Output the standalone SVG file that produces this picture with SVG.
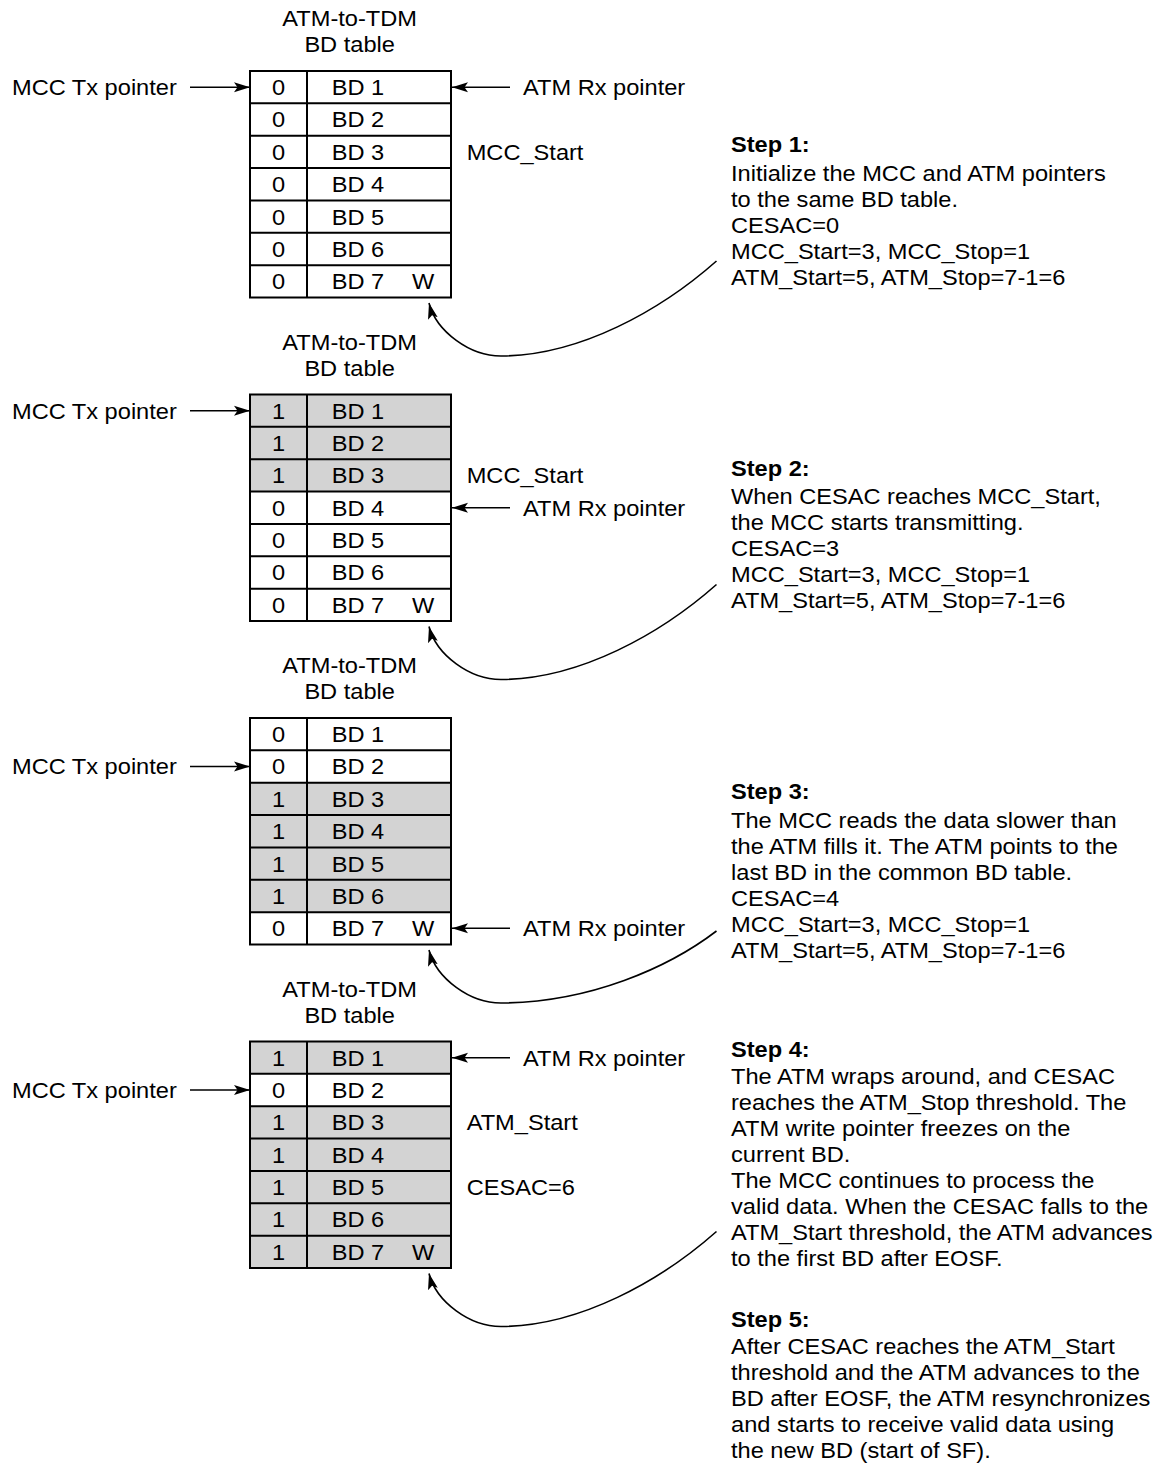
<svg xmlns="http://www.w3.org/2000/svg" width="1164" height="1463" viewBox="0 0 1164 1463">
<style>
text{font-family:"Liberation Sans",Arial,Helvetica,sans-serif;font-size:22.5px;fill:#000}
.m{text-anchor:middle}
.b{font-weight:bold}
.g{fill:#d3d3d3}
.ln{stroke:#000;stroke-width:2;fill:none}
.bx{stroke:#000;stroke-width:2;fill:none}
.ar{stroke:#000;stroke-width:1.6;fill:none;marker-end:url(#ah)}
</style>
<defs>
<marker id="ah" markerUnits="userSpaceOnUse" viewBox="0 0 16 11" markerWidth="16" markerHeight="11" refX="16" refY="5.5" orient="auto">
<path d="M0,0.5 L16,5.5 L0,10.5 L3.5,5.5 Z" fill="#000"/>
</marker>
</defs>

<!-- Table 1 -->
<g id="table1" transform="translate(0 71)">
<rect x="250" y="0" width="201" height="226.5" fill="#fff"/>
<path class="ln" d="M250 32.36H451M250 64.71H451M250 97.07H451M250 129.43H451M250 161.79H451M250 194.14H451M307 0V226.5"/>
<rect class="bx" x="250" y="0" width="201" height="226.5"/>
<g transform="scale(1.05 1)">
<text class="m" x="333" y="-45">ATM-to-TDM</text>
<text class="m" x="333" y="-19">BD table</text>
<text class="m" x="265.2" y="24.2">0</text><text x="315.9" y="24.2">BD 1</text>
<text class="m" x="265.2" y="56.5">0</text><text x="315.9" y="56.5">BD 2</text>
<text class="m" x="265.2" y="88.9">0</text><text x="315.9" y="88.9">BD 3</text>
<text class="m" x="265.2" y="121.3">0</text><text x="315.9" y="121.3">BD 4</text>
<text class="m" x="265.2" y="153.6">0</text><text x="315.9" y="153.6">BD 5</text>
<text class="m" x="265.2" y="186">0</text><text x="315.9" y="186">BD 6</text>
<text class="m" x="265.2" y="218.3">0</text><text x="315.9" y="218.3">BD 7</text><text class="m" x="402.9" y="218.3">W</text>
<text x="11.4" y="24.2">MCC Tx pointer</text>
<text x="498.1" y="24.2">ATM Rx pointer</text>
<text x="444.5" y="88.9">MCC_Start</text>
</g>
</g>

<!-- Table 2 -->
<g id="table2" transform="translate(0 394.5)">
<rect x="250" y="0" width="201" height="226.5" fill="#fff"/>
<rect class="g" x="250" y="0" width="201" height="97.07"/>
<path class="ln" d="M250 32.36H451M250 64.71H451M250 97.07H451M250 129.43H451M250 161.79H451M250 194.14H451M307 0V226.5"/>
<rect class="bx" x="250" y="0" width="201" height="226.5"/>
<g transform="scale(1.05 1)">
<text class="m" x="333" y="-45">ATM-to-TDM</text>
<text class="m" x="333" y="-19">BD table</text>
<text class="m" x="265.2" y="24.2">1</text><text x="315.9" y="24.2">BD 1</text>
<text class="m" x="265.2" y="56.5">1</text><text x="315.9" y="56.5">BD 2</text>
<text class="m" x="265.2" y="88.9">1</text><text x="315.9" y="88.9">BD 3</text>
<text class="m" x="265.2" y="121.3">0</text><text x="315.9" y="121.3">BD 4</text>
<text class="m" x="265.2" y="153.6">0</text><text x="315.9" y="153.6">BD 5</text>
<text class="m" x="265.2" y="186">0</text><text x="315.9" y="186">BD 6</text>
<text class="m" x="265.2" y="218.3">0</text><text x="315.9" y="218.3">BD 7</text><text class="m" x="402.9" y="218.3">W</text>
<text x="11.4" y="24.2">MCC Tx pointer</text>
<text x="444.5" y="88.9">MCC_Start</text>
<text x="498.1" y="121.3">ATM Rx pointer</text>
</g>
</g>

<!-- Table 3 -->
<g id="table3" transform="translate(0 718)">
<rect x="250" y="0" width="201" height="226.5" fill="#fff"/>
<rect class="g" x="250" y="64.71" width="201" height="129.43"/>
<path class="ln" d="M250 32.36H451M250 64.71H451M250 97.07H451M250 129.43H451M250 161.79H451M250 194.14H451M307 0V226.5"/>
<rect class="bx" x="250" y="0" width="201" height="226.5"/>
<g transform="scale(1.05 1)">
<text class="m" x="333" y="-45">ATM-to-TDM</text>
<text class="m" x="333" y="-19">BD table</text>
<text class="m" x="265.2" y="24.2">0</text><text x="315.9" y="24.2">BD 1</text>
<text class="m" x="265.2" y="56.5">0</text><text x="315.9" y="56.5">BD 2</text>
<text class="m" x="265.2" y="88.9">1</text><text x="315.9" y="88.9">BD 3</text>
<text class="m" x="265.2" y="121.3">1</text><text x="315.9" y="121.3">BD 4</text>
<text class="m" x="265.2" y="153.6">1</text><text x="315.9" y="153.6">BD 5</text>
<text class="m" x="265.2" y="186">1</text><text x="315.9" y="186">BD 6</text>
<text class="m" x="265.2" y="218.3">0</text><text x="315.9" y="218.3">BD 7</text><text class="m" x="402.9" y="218.3">W</text>
<text x="11.4" y="56.5">MCC Tx pointer</text>
<text x="498.1" y="218.3">ATM Rx pointer</text>
</g>
</g>

<!-- Table 4 -->
<g id="table4" transform="translate(0 1041.5)">
<rect x="250" y="0" width="201" height="226.5" fill="#d3d3d3"/>
<rect x="250" y="32.36" width="201" height="32.35" fill="#fff"/>
<path class="ln" d="M250 32.36H451M250 64.71H451M250 97.07H451M250 129.43H451M250 161.79H451M250 194.14H451M307 0V226.5"/>
<rect class="bx" x="250" y="0" width="201" height="226.5"/>
<g transform="scale(1.05 1)">
<text class="m" x="333" y="-45">ATM-to-TDM</text>
<text class="m" x="333" y="-19">BD table</text>
<text class="m" x="265.2" y="24.2">1</text><text x="315.9" y="24.2">BD 1</text>
<text class="m" x="265.2" y="56.5">0</text><text x="315.9" y="56.5">BD 2</text>
<text class="m" x="265.2" y="88.9">1</text><text x="315.9" y="88.9">BD 3</text>
<text class="m" x="265.2" y="121.3">1</text><text x="315.9" y="121.3">BD 4</text>
<text class="m" x="265.2" y="153.6">1</text><text x="315.9" y="153.6">BD 5</text>
<text class="m" x="265.2" y="186">1</text><text x="315.9" y="186">BD 6</text>
<text class="m" x="265.2" y="218.3">1</text><text x="315.9" y="218.3">BD 7</text><text class="m" x="402.9" y="218.3">W</text>
<text x="498.1" y="24.2">ATM Rx pointer</text>
<text x="11.4" y="56.5">MCC Tx pointer</text>
<text x="444.5" y="88.9">ATM_Start</text>
<text x="444.5" y="153.6">CESAC=6</text>
</g>
</g>

<!-- Steps -->
<g id="step1" transform="scale(1.05 1)">
<text><tspan class="b" x="696.2" y="152.5">Step 1:</tspan><tspan x="696.2" y="181">Initialize the MCC and ATM pointers</tspan><tspan x="696.2" y="207">to the same BD table.</tspan><tspan x="696.2" y="233">CESAC=0</tspan><tspan x="696.2" y="259">MCC_Start=3, MCC_Stop=1</tspan><tspan x="696.2" y="285">ATM_Start=5, ATM_Stop=7-1=6</tspan></text>
</g>
<g id="step2" transform="scale(1.05 1)">
<text><tspan class="b" x="696.2" y="476">Step 2:</tspan><tspan x="696.2" y="504.5">When CESAC reaches MCC_Start,</tspan><tspan x="696.2" y="530.5">the MCC starts transmitting.</tspan><tspan x="696.2" y="556.5">CESAC=3</tspan><tspan x="696.2" y="582.5">MCC_Start=3, MCC_Stop=1</tspan><tspan x="696.2" y="608.5">ATM_Start=5, ATM_Stop=7-1=6</tspan></text>
</g>
<g id="step3" transform="scale(1.05 1)">
<text><tspan class="b" x="696.2" y="799.5">Step 3:</tspan><tspan x="696.2" y="828">The MCC reads the data slower than</tspan><tspan x="696.2" y="854">the ATM fills it. The ATM points to the</tspan><tspan x="696.2" y="880">last BD in the common BD table.</tspan><tspan x="696.2" y="906">CESAC=4</tspan><tspan x="696.2" y="932">MCC_Start=3, MCC_Stop=1</tspan><tspan x="696.2" y="958">ATM_Start=5, ATM_Stop=7-1=6</tspan></text>
</g>
<g id="step4" transform="scale(1.05 1)">
<text><tspan class="b" x="696.2" y="1057.5">Step 4:</tspan><tspan x="696.2" y="1084">The ATM wraps around, and CESAC</tspan><tspan x="696.2" y="1110">reaches the ATM_Stop threshold. The</tspan><tspan x="696.2" y="1136">ATM write pointer freezes on the</tspan><tspan x="696.2" y="1162">current BD.</tspan><tspan x="696.2" y="1188">The MCC continues to process the</tspan><tspan x="696.2" y="1214">valid data. When the CESAC falls to the</tspan><tspan x="696.2" y="1240">ATM_Start threshold, the ATM advances</tspan><tspan x="696.2" y="1266">to the first BD after EOSF.</tspan></text>
</g>
<g id="step5" transform="scale(1.05 1)">
<text><tspan class="b" x="696.2" y="1327.5">Step 5:</tspan><tspan x="696.2" y="1354">After CESAC reaches the ATM_Start</tspan><tspan x="696.2" y="1380">threshold and the ATM advances to the</tspan><tspan x="696.2" y="1406.5">BD after EOSF, the ATM resynchronizes</tspan><tspan x="696.2" y="1432.5">and starts to receive valid data using</tspan><tspan x="696.2" y="1458.5">the new BD (start of SF).</tspan></text>
</g>

<!-- Connectors -->
<g id="connectors">
<path class="ar" d="M190 87.2H250"/>
<path class="ar" d="M510 87.2H452"/>
<path class="ar" d="M190 410.7H250"/>
<path class="ar" d="M510 507.8H452"/>
<path class="ar" d="M190 766.5H250"/>
<path class="ar" d="M510 928.3H452"/>
<path class="ar" d="M510 1057.7H452"/>
<path class="ar" d="M190 1090H250"/>
<path class="ar" d="M716.5,261 C660,311 580,355 503,356 C470,357 436,331 429,303"/>
<path class="ar" d="M716.5,584.5 C660,634.5 580,678.5 503,679.5 C470,680.5 436,654.5 429,626.5"/>
<path class="ar" d="M716.5,931 C668,968 590,1002 503,1003 C470,1004 436,978 429,950"/>
<path class="ar" d="M716.5,1231.5 C660,1281.5 580,1325.5 503,1326.5 C470,1327.5 436,1301.5 429,1273.5"/>
</g>
</svg>
